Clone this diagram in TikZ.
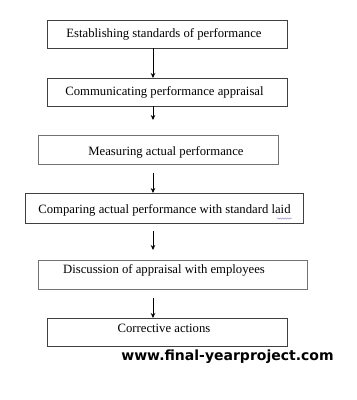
\documentclass[tikz,border=0pt]{standalone}
\usepackage{fontspec}
\setmainfont{Liberation Serif}
\newfontfamily\wmfont{DejaVu Sans}
\usetikzlibrary{arrows.meta,decorations.pathmorphing}
\begin{document}
\begin{tikzpicture}[x=1pt,y=-1pt,
  stepbox/.style={draw=black!75,line width=0.9pt,inner sep=0pt,outer sep=0pt},
  steptext/.style={inner sep=0pt,font=\fontsize{12.7}{14}\selectfont},
  flow/.style={draw=black,line width=0.7pt,-{Stealth[length=5pt,width=4.5pt]}}]
\useasboundingbox[fill=white] (0,0) rectangle (357,400);
% boxes
\node[stepbox,minimum width=240pt,minimum height=28pt] (b1) at (167,34) {};
\node[stepbox,minimum width=240pt,minimum height=28pt] (b2) at (167,92) {};
\node[stepbox,draw=black!55,minimum width=240pt,minimum height=29pt] (b3) at (158,149.5) {};
\node[stepbox,minimum width=278pt,minimum height=30pt] (b4) at (164,208) {};
\node[stepbox,draw=black!55,minimum width=269pt,minimum height=29pt] (b5) at (172.5,274.5) {};
\node[stepbox,minimum width=240pt,minimum height=28pt] (b6) at (167,332) {};
% texts
\node[steptext] (t1) at (164,34) {Establishing standards of performance};
\node[steptext] (t2) at (164.5,92) {Communicating performance appraisal};
\node[steptext] (t3) at (166,152) {Measuring actual performance};
\node[steptext] (t4) at (164.5,210.5) {Comparing actual performance with standard laid};
\node[steptext] (t5) at (164,270) {Discussion of appraisal with employees};
\node[steptext] (t6) at (164,328) {Corrective actions};
% spell-check squiggle under "laid"
\coordinate (sq1) at (277,218.5);
\coordinate (sq2) at (292,218.5);
\draw[draw=blue!40!gray!70,line width=0.4pt,decorate,decoration={snake,amplitude=0.7pt,segment length=2.5pt}] (sq1) -- (sq2);
% arrow free ends
\coordinate (a2e) at (153,120);
\coordinate (a3s) at (153,173);
\coordinate (a4s) at (153,231);
\coordinate (a4e) at (153,250);
\coordinate (a5s) at (153,298);
\path (b1.south) ++(-14,0) coordinate (a1s);
\path (b2.north) ++(-14,0) coordinate (a1e);
\path (b2.south) ++(-14,0) coordinate (a2s);
\path (b6.north) ++(-14,0) coordinate (a5e);
\path (b4.north) ++(-11,0) coordinate (a3e);
\draw[flow] (a1s) -- (a1e);
\draw[flow] (a2s) -- (a2e);
\draw[flow] (a3s) -- (a3e);
\draw[flow] (a4s) -- (a4e);
\draw[flow] (a5s) -- (a5e);
% watermark
\node[inner sep=0pt,font=\wmfont\bfseries\fontsize{14}{16}\selectfont] (wm) at (227.5,357) {www.final-yearproject.com};
\end{tikzpicture}
\end{document}
